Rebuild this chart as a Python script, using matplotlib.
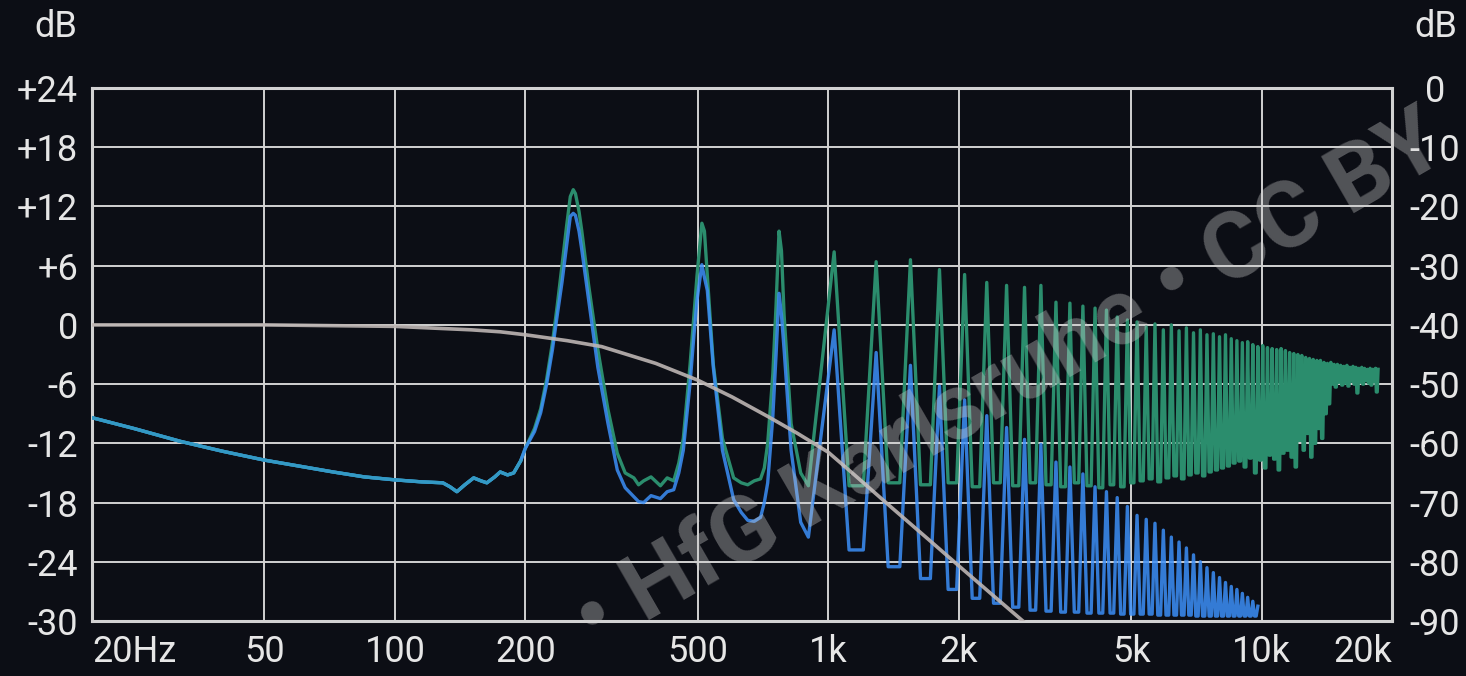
import matplotlib.pyplot as plt
from matplotlib.ticker import NullLocator

# fundamental of the analysed tone (Hz)
f0 = 258

# both spectra coincide below the first partial (Hz / dB)
low_f = [20, 25, 32, 40, 50, 60, 72, 85, 100, 115, 129, 134, 139, 145, 152, 158, 163, 170, 175, 182, 188, 195]
low_db = [-9.4, -10.5, -11.8, -12.8, -13.7, -14.3, -14.9, -15.4, -15.7, -15.9, -16.0, -16.4, -16.9,
          -16.2, -15.5, -15.8, -16.0, -15.4, -14.9, -15.2, -15.0, -13.8]

# first three partials, read point by point
p13_f = [200, 210, 217, 224, 231, 237, 243, 249, 254, 258, 261, 266, 270, 280, 294, 310, 326, 340,
         356, 365, 375, 390, 410, 425, 440, 452, 463, 480, 490, 498, 511, 518, 526, 543, 570, 605,
         630, 652, 675, 698, 712, 725, 745, 758, 770, 780, 791, 821, 864, 900]
green_p13 = [-12.5, -10.5, -8.5, -5.5, -1.8, 2.0, 6.0, 10.0, 13.0, 13.7, 13.3, 11.5, 9.5, 4.0, -2.5,
             -8.5, -13.0, -15.0, -15.5, -16.2, -15.8, -15.4, -16.3, -15.5, -15.8, -14.0, -11.5, -4.0,
             1.0, 5.0, 10.3, 9.5, 5.0, -4.0, -11.5, -15.5, -16.0, -16.2, -15.8, -15.6, -14.5, -12.0,
             -5.0, 2.0, 9.5, 7.5, 1.0, -10.0, -15.0, -16.3]
blue_p13 = [-12.5, -10.8, -8.9, -6.0, -2.5, 1.0, 4.3, 8.0, 11.0, 11.3, 11.1, 9.5, 7.6, 2.5, -4.3,
            -9.9, -14.7, -16.5, -17.4, -17.9, -18.0, -17.3, -17.6, -16.9, -16.7, -15.0, -12.7, -5.9,
            -1.0, 2.5, 6.1, 4.8, 3.5, -4.3, -12.7, -17.7, -19.0, -19.8, -19.9, -19.5, -18.0, -16.0,
            -9.3, -3.0, 3.2, 1.0, -2.5, -12.7, -20.0, -21.5]

# higher partials from n=4: peak level and the dip after it (dB)
green_peak = [7.4, 6.4, 6.6, 5.6, 5.1, 4.3, 4.0, 3.8, 4.0, 2.3, 2.2, 1.9, 1.7, 1.5, 0.8, 0.5,
              0.3, -0.2, 0.1, -0.5, 0.0, -0.6, -0.3, -0.8, -0.5, -1.0, -0.9, -1.2, -1.0, -1.4,
              -1.6, -1.8, -1.7, -2.0, -2.2, -2.1, -2.3,
              -2.4, -2.5, -2.4, -2.6, -2.8, -2.9, -3.0, -3.1, -3.3, -3.4,
              -3.5, -3.6, -3.6, -3.8, -3.9, -3.8, -4.0, -4.0, -4.1, -4.2, -4.1, -4.3, -4.2, -4.3,
              -4.4, -4.3, -4.4, -4.5, -4.4, -4.5, -4.4, -4.5]
green_dip = [-16.3, -16.0, -16.2, -16.0, -16.4, -16.0, -16.3, -16.0, -16.2, -16.4, -16.0, -16.3,
             -16.5, -16.2, -16.4, -16.0,
             -15.8, -15.6, -15.9, -15.5, -15.3, -15.6, -15.2, -15.0, -15.3, -14.9, -14.7, -14.5,
             -14.3, -14.0,
             -13.8, -14.4, -13.5, -15.0, -13.7, -14.5, -13.2,
             -13.6, -14.7, -13.0, -12.7, -13.4, -14.4, -11.7, -12.7, -11.0, -13.4, -12.0, -10.5,
             -11.5, -9.0, -8.0,
             -6.0, -6.3, -5.8, -6.1, -5.9, -6.2, -5.7, -6.0, -6.9, -5.8, -6.0, -5.6, -5.9, -6.1,
             -5.7, -6.8]
blue_peak = [-0.5, -2.8, -4.1, -6.2, -7.6, -9.2, -10.4, -11.6, -12.1, -13.9, -14.4, -15.1, -16.4,
             -16.9, -17.5, -18.4, -19.3, -19.7, -20.1, -20.8, -21.5, -22.0, -22.6, -23.3, -24.0,
             -24.6, -25.1, -25.6, -26.1, -26.5, -26.8, -27.2, -27.6, -28.0, -28.5]
blue_dip = [-22.8, -24.5, -25.7, -26.8, -27.7, -28.2, -28.6, -28.9, -29.0, -29.1, -29.1, -29.2,
            -29.2, -29.2, -29.3, -29.3, -29.3, -29.3, -29.4, -29.4, -29.4, -29.4, -29.4, -29.5,
            -29.5, -29.5, -29.5, -29.5, -29.5, -29.5, -29.5, -29.5, -29.5, -29.5]

# low-pass filter response (grey curve)
filt_f = [20, 50, 100, 150, 175, 200, 250, 300, 400, 500, 600, 727, 850, 1000, 1136, 1400, 1700,
          2000, 2400, 2900]
filt_db = [0, 0, -0.15, -0.5, -0.7, -1.0, -1.6, -2.2, -3.9, -5.6, -7.3, -9.3, -11.0, -12.9, -15.0,
           -18.5, -21.7, -24.4, -27.4, -30.5]

x_ticks = [20, 50, 100, 200, 500, 1000, 2000, 5000, 10000, 20000]
x_labels = ['20Hz', '50', '100', '200', '500', '1k', '2k', '5k', '10k', '20k']
y_ticks = [24, 18, 12, 6, 0, -6, -12, -18, -24, -30]
y_labels = ['+24', '+18', '+12', '+6', '0', '-6', '-12', '-18', '-24', '-30']
r_ticks = [0, -10, -20, -30, -40, -50, -60, -70, -80, -90]


def spectrum(head_db, peaks, dips):
    f = low_f + p13_f
    db = low_db + head_db
    for i, p in enumerate(peaks):
        n = 4 + i
        f.append(f0 * n)
        db.append(p)
        if i < len(dips):
            f += [f0 * (n + 0.33), f0 * (n + 0.67)]
            db += [dips[i], dips[i]]
    return f, db


bg = '#0c0e15'
fg = '#e6e6e6'
gridc = '#d2d2d2'
plt.rcParams['font.family'] = ['Roboto', 'DejaVu Sans']

fig = plt.figure(figsize=(14.66, 6.76), dpi=100, facecolor=bg)
ax = fig.add_axes([92 / 1466, 1 - 621 / 676, 1300 / 1466, 533 / 676])
ax.set_facecolor(bg)

gf, gdb = spectrum(green_p13, green_peak, green_dip)
bf, bdb = spectrum(blue_p13, blue_peak, blue_dip)
ax.plot(gf, gdb, color='#2b8d6d', lw=2.4, zorder=3, solid_joinstyle='round')
ax.plot(bf, bdb, color='#3c8ff8', lw=2.4, alpha=0.85, zorder=4, solid_joinstyle='round')
# where both traces overlap they read as teal
ax.plot(low_f, low_db, color='#3399c4', lw=2.4, zorder=4)
ax.plot(filt_f, filt_db, color='#bdb5b3', lw=2.6, alpha=0.9, zorder=5)

ax.set_xscale('log')
ax.set_xlim(20, 20000)
ax.set_ylim(-30, 24)
ax.xaxis.set_minor_locator(NullLocator())
ax.set_xticks(x_ticks)
ax.set_xticklabels(x_labels)
ax.set_yticks(y_ticks)
ax.set_yticklabels(y_labels)
ax.tick_params(length=0, labelsize=26, colors=fg)
ax.tick_params(axis='x', pad=9)
ax.tick_params(axis='y', pad=10)
labels = ax.get_xticklabels()
labels[0].set_ha('left')
labels[-1].set_ha('right')

ax.grid(True, color=gridc, lw=1.4, zorder=1)
for s in ax.spines.values():
    s.set_color(gridc)
    s.set_linewidth(2.2)
    s.set_zorder(2)

sec = ax.secondary_yaxis('right', functions=(lambda y: (y - 24) * 90 / 54, lambda r: r * 54 / 90 + 24))
sec.set_yticks(r_ticks)
sec.set_yticklabels([str(r) for r in r_ticks])
sec.tick_params(length=0, labelsize=26, colors=fg, pad=31)
for t in sec.get_yticklabels():
    t.set_ha('center')
sec.spines['right'].set_visible(False)

fig.text(77 / 1466, 1 - 27 / 676, 'dB', ha='right', va='center', fontsize=26, color=fg)
fig.text(1436 / 1466, 1 - 27 / 676, 'dB', ha='center', va='center', fontsize=26, color=fg)

# watermark
fig.text(1010 / 1466, 1 - 382 / 676, '\u2022 HfG Karlsruhe \u2022 CC BY', rotation=30,
         rotation_mode='anchor', ha='center', va='center', fontsize=67, fontweight='bold',
         color='#d0d0d0', alpha=0.36, zorder=10)

fig.savefig('out.png', dpi=100, facecolor=bg)
